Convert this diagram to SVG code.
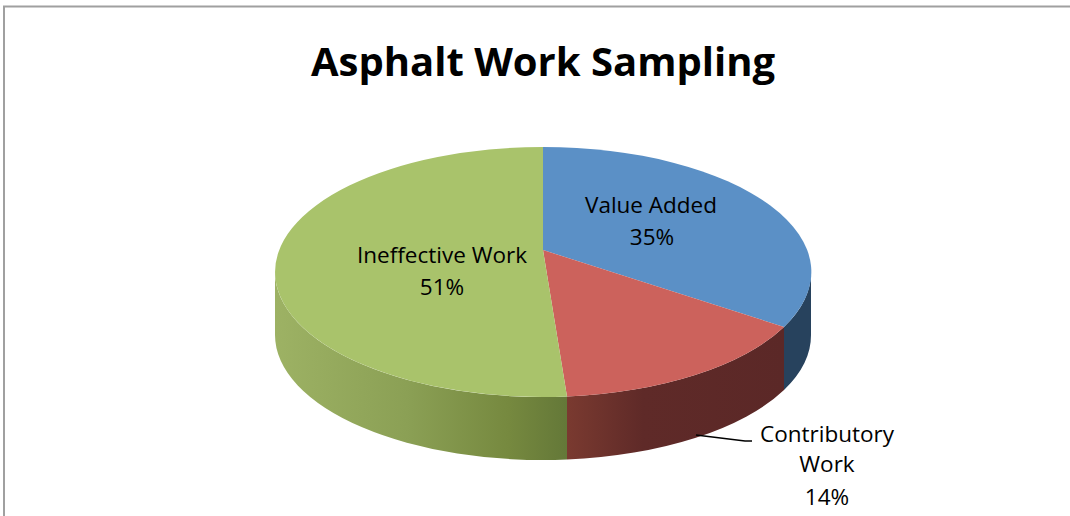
<svg xmlns="http://www.w3.org/2000/svg" width="1070" height="516" viewBox="0 0 1070 516">
<defs>
<style>
.lbl{font-family:"Open Sans","Liberation Sans",sans-serif;font-size:22.5px;fill:#000;text-anchor:middle}
.title{font-family:"Open Sans","Liberation Sans",sans-serif;font-size:40px;font-weight:bold;fill:#000;text-anchor:middle}
</style>
<linearGradient id="gSide" x1="275" y1="0" x2="567" y2="0" gradientUnits="userSpaceOnUse">
<stop offset="0" stop-color="#9db264"/>
<stop offset="0.45" stop-color="#8ba055"/>
<stop offset="0.8" stop-color="#76893f"/>
<stop offset="1" stop-color="#647838"/>
</linearGradient>
<linearGradient id="rSide" x1="567" y1="0" x2="784" y2="0" gradientUnits="userSpaceOnUse">
<stop offset="0" stop-color="#7a3a30"/>
<stop offset="0.35" stop-color="#5f2a28"/>
<stop offset="1" stop-color="#5b2827"/>
</linearGradient>
</defs>
<rect x="4" y="6.5" width="1080" height="520" fill="#fff" stroke="#a0a0a0" stroke-width="2"/>
<text class="title" x="543" y="76">Asphalt Work Sampling</text>
<g id="pie-sides">
<path d="M811,272 A268,125 0 0 1 784,327 L784,390 A268,125 0 0 0 811,335 Z" fill="#27425d"/>
<path d="M784,327 A268,125 0 0 1 567,396.5 L567,459.5 A268,125 0 0 0 784,390 Z" fill="url(#rSide)"/>
<path d="M567,396.5 A268,125 0 0 1 275,272 L275,335 A268,125 0 0 0 567,459.5 Z" fill="url(#gSide)"/>
</g>
<g id="value-added">
<path d="M543,250 L543,147 A268,125 0 0 1 784,327 Z" fill="#5b90c6"/>
<text class="lbl" x="651" y="213">Value Added</text>
<text class="lbl" x="652" y="245">35%</text>
</g>
<g id="contributory-work">
<path d="M543,250 L784,327 A268,125 0 0 1 567,396.5 Z" fill="#cc625c"/>
</g>
<g id="ineffective-work">
<path d="M543,250 L567,396.5 A268,125 0 1 1 543,147 Z" fill="#a9c36b"/>
<text class="lbl" x="442" y="263">Ineffective Work</text>
<text class="lbl" x="442" y="295">51%</text>
</g>
<g id="connectors">
<polyline points="696,435 745,441 752,441" fill="none" stroke="#000" stroke-width="1.5"/>
</g>
<g id="contributory-label">
<text class="lbl" x="827" y="442">Contributory</text>
<text class="lbl" x="827" y="472">Work</text>
<text class="lbl" x="827" y="505">14%</text>
</g>
</svg>
